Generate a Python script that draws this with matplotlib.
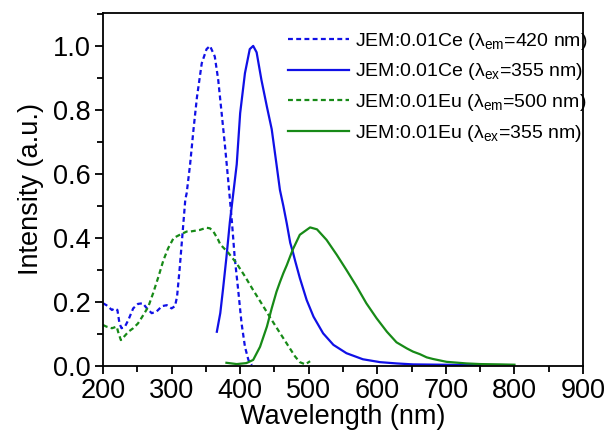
import matplotlib
matplotlib.use("Agg")
import matplotlib.pyplot as plt
from matplotlib.ticker import MultipleLocator, FormatStrFormatter

plt.rcParams['font.family'] = ['Liberation Sans', 'DejaVu Sans']
plt.rcParams['mathtext.fontset'] = 'custom'
plt.rcParams['mathtext.rm'] = 'Liberation Sans'

# Ce excitation (lambda_em = 420 nm)
ce_ex_x = [200, 205, 213, 217, 221, 224, 227, 232, 237, 244, 251, 258, 264, 271, 278, 286, 293, 300, 305,
           308, 312, 316, 320, 322, 327, 332, 337, 344, 351, 356, 363, 368, 373, 378, 383, 388, 392, 397,
           402, 407, 412, 417]
ce_ex_y = [0.196, 0.19, 0.175, 0.18, 0.175, 0.133, 0.118, 0.123, 0.144, 0.18, 0.194, 0.196, 0.18, 0.165, 0.17,
           0.187, 0.19, 0.18, 0.187, 0.217, 0.31, 0.415, 0.52, 0.54, 0.63, 0.74, 0.84, 0.946, 0.99, 1.0, 0.967,
           0.894, 0.79, 0.685, 0.57, 0.45, 0.34, 0.24, 0.134, 0.06, 0.019, 0.003]
# Ce emission (lambda_ex = 355 nm)
ce_em_x = [366, 371, 375, 380, 385, 390, 395, 400, 407, 414, 419, 424, 431, 439, 446, 453, 458, 463, 468,
           473, 477, 480, 487, 497, 507, 521, 536, 555, 579, 604, 628, 652, 691, 750]
ce_em_y = [0.107, 0.165, 0.24, 0.34, 0.45, 0.54, 0.63, 0.79, 0.915, 0.99, 1.0, 0.98, 0.894, 0.81, 0.74, 0.63,
           0.55, 0.50, 0.445, 0.385, 0.355, 0.33, 0.275, 0.206, 0.154, 0.102, 0.066, 0.04, 0.021, 0.012, 0.008,
           0.005, 0.004, 0.003]
# Eu excitation (lambda_em = 500 nm)
eu_ex_x = [200, 205, 213, 220, 222, 226, 230, 237, 244, 251, 259, 266, 273, 281, 288, 295, 303, 312, 322,
           327, 341, 351, 356, 361, 368, 371, 383, 395, 407, 419, 431, 443, 456, 468, 480, 487, 495, 502]
eu_ex_y = [0.128, 0.123, 0.118, 0.123, 0.107, 0.081, 0.09, 0.107, 0.118, 0.133, 0.16, 0.185, 0.227, 0.28, 0.33,
           0.368, 0.40, 0.41, 0.42, 0.42, 0.425, 0.432, 0.43, 0.42, 0.394, 0.38, 0.353, 0.32, 0.28, 0.237, 0.196,
           0.154, 0.11, 0.07, 0.03, 0.012, 0.005, 0.015]
# Eu emission (lambda_ex = 355 nm)
eu_em_x = [380, 395, 409, 419, 429, 439, 446, 453, 458, 463, 468, 473, 477, 487, 502, 512, 526, 541, 555,
           570, 584, 599, 614, 628, 643, 652, 662, 672, 681, 701, 730, 750, 779, 800]
eu_em_y = [0.01, 0.006, 0.009, 0.019, 0.06, 0.123, 0.18, 0.232, 0.262, 0.29, 0.315, 0.343, 0.365, 0.41, 0.433,
           0.427, 0.394, 0.347, 0.30, 0.248, 0.196, 0.149, 0.107, 0.074, 0.055, 0.045, 0.037, 0.027, 0.022,
           0.013, 0.008, 0.006, 0.005, 0.004]

labels = [r'JEM:0.01Ce (λ$_{\mathregular{em}}$=420 nm)',
          r'JEM:0.01Ce (λ$_{\mathregular{ex}}$=355 nm)',
          r'JEM:0.01Eu (λ$_{\mathregular{em}}$=500 nm)',
          r'JEM:0.01Eu (λ$_{\mathregular{ex}}$=355 nm)']

blue = '#1010e6'
green = '#178a17'

fig = plt.figure(figsize=(6.11, 4.32), dpi=100)
ax = fig.add_axes([0.1686, 0.1528, 0.7856, 0.8172])

ax.plot(ce_ex_x, ce_ex_y, color=blue, lw=1.6, dashes=(2.2, 1.5), label=labels[0])
ax.plot(ce_em_x, ce_em_y, color=blue, lw=1.6, label=labels[1])
ax.plot(eu_ex_x, eu_ex_y, color=green, lw=1.6, dashes=(2.2, 1.5), label=labels[2])
ax.plot(eu_em_x, eu_em_y, color=green, lw=1.6, label=labels[3])

ax.set_xlim(200, 900)
ax.set_ylim(0, 1.103)
ax.xaxis.set_major_locator(MultipleLocator(100))
ax.xaxis.set_minor_locator(MultipleLocator(50))
ax.yaxis.set_major_locator(MultipleLocator(0.2))
ax.yaxis.set_minor_locator(MultipleLocator(0.1))
ax.yaxis.set_major_formatter(FormatStrFormatter('%.1f'))
ax.tick_params(axis='both', which='major', direction='out', length=6, width=1.3, labelsize=19.5, pad=3)
ax.tick_params(axis='both', which='minor', direction='out', length=4, width=1.3)
for s in ax.spines.values():
    s.set_linewidth(1.3)

ax.set_xlabel('Wavelength (nm)', fontsize=19.5, labelpad=0)
ax.set_ylabel('Intensity (a.u.)', fontsize=19.5, labelpad=6)

ax.legend(loc='upper right', frameon=False, fontsize=14, handlelength=3.1, handletextpad=0.35,
          labelspacing=0.5, borderaxespad=0.0, bbox_to_anchor=(1.026, 0.972))

fig.savefig('out.png', dpi=100)
